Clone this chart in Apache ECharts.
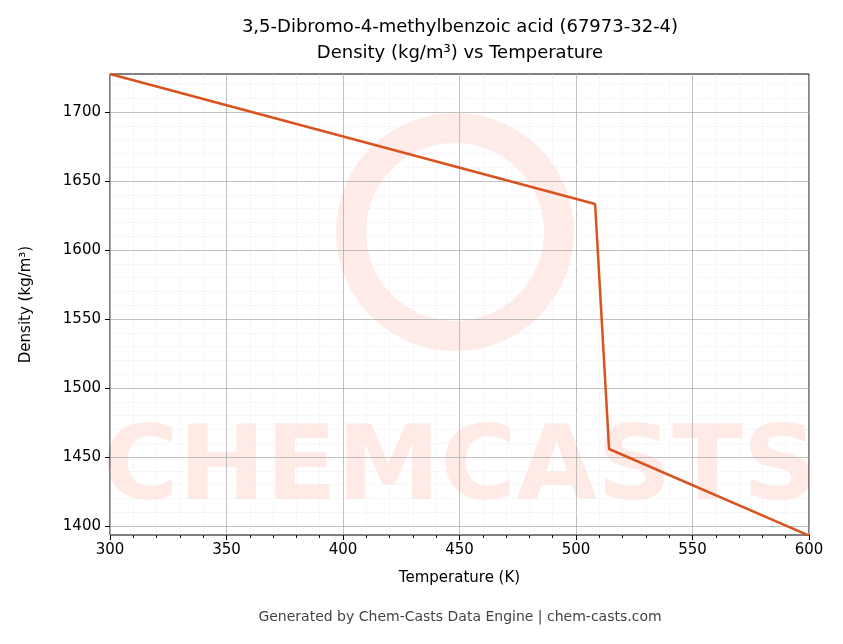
<!DOCTYPE html>
<html>
<head>
<meta charset="utf-8">
<script src="https://cdn.jsdelivr.net/npm/echarts@6/dist/echarts.min.js"></script>
<style>html,body{margin:0;padding:0;background:#fff}#c{width:843px;height:644px}</style>
</head>
<body>
<div id="c"></div>
<script>
// temperatures (K) and densities (kg/m³)
const temps = [300, 508.2, 514.2, 600];
const densities = [1727.5, 1633.3, 1455.8, 1393];
const xTicks = [300, 350, 400, 450, 500, 550, 600];
const yTicks = [1400, 1450, 1500, 1550, 1600, 1650, 1700];

const font = 'DejaVu Sans';
const chart = echarts.init(document.getElementById('c'));

chart.setOption({
  animation: false,
  textStyle: { fontFamily: font },
  graphic: [
    {
      type: 'text', x: 460, y: 14, silent: true,
      style: {
        text: '3,5-Dibromo-4-methylbenzoic acid (67973-32-4)\nDensity (kg/m³) vs Temperature',
        fontSize: 18, lineHeight: 26, fill: '#000', fontFamily: font, align: 'center'
      }
    },
    {
      type: 'text', x: 460, y: 420, z: -1, silent: true,
      style: { text: 'CHEMCASTS', fontSize: 104, fontWeight: 'bold', fill: 'rgba(255,90,60,0.13)', fontFamily: font, align: 'center' }
    },
    {
      type: 'circle', shape: { cx: 455, cy: 232, r: 104 }, z: -1, silent: true,
      style: { fill: 'none', stroke: 'rgba(255,90,60,0.12)', lineWidth: 30 }
    },
    {
      type: 'text', x: 460, y: 610, silent: true,
      style: { text: 'Generated by Chem-Casts Data Engine | chem-casts.com', fontSize: 14, fill: '#444', fontFamily: font, align: 'center' }
    }
  ],
  grid: { left: 110, right: 34, top: 74, bottom: 109, show: true, borderColor: '#000', borderWidth: 1, backgroundColor: 'transparent' },
  xAxis: {
    type: 'value', min: 300, max: 600, interval: 50,
    name: 'Temperature (K)', nameLocation: 'middle', nameGap: 36,
    nameTextStyle: { fontSize: 15, color: '#000', fontFamily: font },
    axisLine: { show: false },
    axisTick: { show: true, length: 5, lineStyle: { color: '#000' } },
    minorTick: { show: true, splitNumber: 5, length: 3, lineStyle: { color: '#000' } },
    axisLabel: { fontSize: 15, color: '#000', margin: 8, customValues: xTicks, formatter: v => String(v) },
    splitLine: { show: true, lineStyle: { color: '#b0b0b0', width: 0.8 } },
    minorSplitLine: { show: true, lineStyle: { color: '#e8e8e8', width: 0.5, type: 'dashed' } }
  },
  yAxis: {
    type: 'value', min: 1393.5, max: 1727.5,
    name: 'Density (kg/m³)', nameLocation: 'middle', nameGap: 76,
    nameTextStyle: { fontSize: 15, color: '#000', fontFamily: font },
    axisLine: { show: false },
    axisTick: { show: true, length: 5, lineStyle: { color: '#000' }, customValues: yTicks },
    minorTick: { show: false },
    axisLabel: { fontSize: 15, color: '#000', margin: 9, customValues: yTicks, formatter: v => String(v) },
    splitLine: { show: false }
  },
  series: [
    {
      type: 'line', data: temps.map((t, i) => [t, densities[i]]),
      showSymbol: false, lineStyle: { color: '#d9531e', width: 2.5 }, z: 5
    },
    // horizontal grid lines at the labelled y ticks and minor ones every 10
    {
      type: 'line', data: [], silent: true,
      markLine: {
        symbol: 'none', silent: true, label: { show: false },
        data: Array.from({ length: 34 }, (_, k) => 1400 + k * 10).filter(v => v <= 1727).map(v => ({
          yAxis: v,
          lineStyle: v % 50 === 0 ? { color: '#b0b0b0', width: 0.8, type: 'solid' } : { color: '#e8e8e8', width: 0.5, type: 'dashed' }
        }))
      }
    }
  ]
});
</script>
</body>
</html>
